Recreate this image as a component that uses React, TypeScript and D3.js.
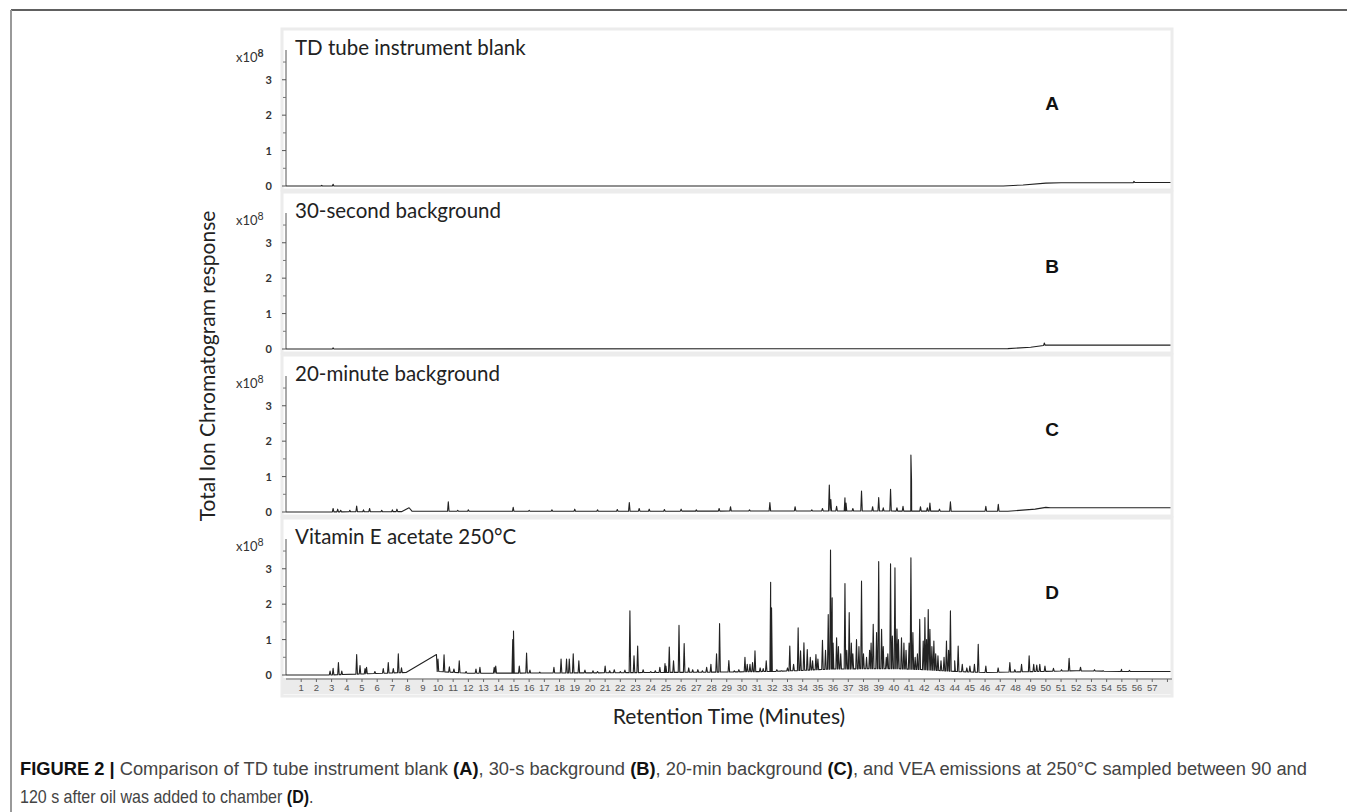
import React from 'react';
import * as d3 from 'd3';

// ---- data (minutes, x10^8 counts) ----
const panelTitles = ['TD tube instrument blank', '30-second background', '20-minute background', 'Vitamin E acetate 250°C'];
const panelLetters = ['A', 'B', 'C', 'D'];
const yTicks = [0, 1, 2, 3];
const yMinorTicks = [0.5, 1.5, 2.5, 3.5];
const xTickLabels = d3.range(1, 58);

const baselineA = [[0, 0], [47.2, 0], [48.5, 0.03], [50, 0.08], [51, 0.09], [58.2, 0.1]];
const peaksA = [[2.35, 0.02], [3.1, 0.05], [55.8, 0.13]];

const baselineB = [[0, 0], [47.5, 0.01], [49, 0.05], [50, 0.11], [58.2, 0.11]];
const peaksB = [[3.1, 0.03], [49.9, 0.17]];

const baselineC = [[0, 0], [7.6, 0.01], [8.1, 0.12], [8.3, 0.02], [20, 0.02], [35, 0.03], [47.5, 0.02], [49.3, 0.08], [50, 0.13], [50.3, 0.12], [58.2, 0.12]];
const peaksC = [
  [3.1, 0.1], [3.4, 0.08], [3.6, 0.05], [4.2, 0.05], [4.65, 0.17], [5.1, 0.06], [5.5, 0.1], [6.3, 0.05], [7.0, 0.06], [7.3, 0.08],
  [10.68, 0.29], [11.3, 0.05], [12.0, 0.06], [14.95, 0.13], [16.0, 0.05], [17.5, 0.06], [19.0, 0.08], [20.5, 0.06], [21.8, 0.07],
  [22.59, 0.27], [23.24, 0.1], [23.9, 0.08], [24.9, 0.07], [26.0, 0.08], [27.0, 0.06], [28.5, 0.1], [29.25, 0.15], [30.5, 0.06],
  [31.84, 0.27], [33.5, 0.15], [34.6, 0.06], [35.3, 0.1], [35.75, 0.76], [35.85, 0.35], [36.23, 0.16], [36.78, 0.4], [36.85, 0.25],
  [37.3, 0.1], [37.87, 0.59], [38.6, 0.15], [39.0, 0.41], [39.3, 0.12], [39.78, 0.64], [40.2, 0.12], [40.6, 0.16], [41.12, 1.61],
  [41.16, 0.9], [41.75, 0.15], [42.2, 0.12], [42.37, 0.25], [43.0, 0.08], [43.72, 0.29], [46.05, 0.16], [46.87, 0.22],
];

const baselineD = [[0, 0], [2.8, 0], [7.9, 0.07], [9.9, 0.58], [9.95, 0.1], [12, 0.05], [20, 0.06], [28, 0.08], [32, 0.1], [34, 0.13], [36, 0.17], [40, 0.18], [42, 0.15], [44, 0.1], [46, 0.07], [52, 0.12], [55, 0.1], [58.2, 0.1]];
const peaksD = [
  [2.9, 0.11], [3.1, 0.19], [3.45, 0.35], [3.67, 0.11], [4.65, 0.58], [4.87, 0.27], [5.2, 0.18], [5.3, 0.22], [5.85, 0.1], [6.4, 0.18],
  [6.73, 0.35], [7.06, 0.18], [7.39, 0.6], [7.6, 0.2], [10.0, 0.45], [10.4, 0.57], [10.75, 0.23], [11.05, 0.17], [11.4, 0.4], [11.85, 0.1],
  [12.5, 0.17], [12.76, 0.22], [13.7, 0.22], [13.8, 0.25], [14.92, 1.0], [14.97, 1.24], [15.35, 0.25], [15.83, 0.62], [16.05, 0.14],
  [16.7, 0.08], [17.63, 0.22], [18.1, 0.45], [18.46, 0.45], [18.64, 0.45], [18.9, 0.6], [19.27, 0.4], [19.67, 0.14], [20.2, 0.12],
  [20.5, 0.1], [21.0, 0.25], [21.3, 0.12], [21.6, 0.15], [22.0, 0.1], [22.3, 0.14], [22.63, 1.81], [22.9, 0.54], [23.14, 0.82],
  [23.5, 0.15], [24.0, 0.1], [24.3, 0.12], [24.6, 0.22], [24.94, 0.32], [25.0, 0.25], [25.22, 0.79], [25.5, 0.4], [25.86, 1.4],
  [26.2, 0.89], [26.5, 0.2], [26.76, 0.15], [27.1, 0.15], [27.4, 0.12], [27.68, 0.22], [27.96, 0.3], [28.33, 0.6], [28.53, 1.45],
  [29.14, 0.41], [29.5, 0.12], [29.8, 0.15], [30.2, 0.5], [30.35, 0.3], [30.53, 0.3], [30.7, 0.35], [30.86, 0.68], [31.2, 0.2],
  [31.4, 0.18], [31.6, 0.4], [31.89, 2.62], [31.95, 1.9], [32.3, 0.15], [32.6, 0.12], [33.0, 0.2], [33.15, 0.82], [33.4, 0.3],
  [33.7, 1.33], [33.86, 0.68], [34.08, 0.91], [34.3, 0.72], [34.5, 0.5], [34.65, 0.4], [34.87, 0.58], [35.0, 0.45], [35.3, 0.98],
  [35.5, 0.7], [35.68, 1.71], [35.83, 3.53], [35.94, 2.18], [36.0, 0.9], [36.23, 1.05], [36.35, 0.8], [36.5, 0.6], [36.78, 2.58],
  [36.9, 0.7], [37.06, 1.76], [37.2, 0.9], [37.3, 0.6], [37.54, 1.0], [37.7, 0.8], [37.87, 2.65], [38.0, 0.6], [38.2, 0.5],
  [38.4, 0.7], [38.5, 0.9], [38.64, 1.43], [38.86, 1.2], [39.0, 3.2], [39.19, 1.29], [39.3, 0.8], [39.5, 0.5], [39.6, 0.6],
  [39.78, 3.14], [39.9, 1.1], [40.07, 3.03], [40.2, 1.3], [40.3, 1.0], [40.5, 1.05], [40.66, 0.9], [40.8, 0.7], [41.0, 0.9],
  [41.12, 3.31], [41.25, 1.2], [41.4, 0.5], [41.55, 0.6], [41.7, 1.57], [41.93, 0.96], [42.04, 1.62], [42.15, 1.0], [42.26, 1.85],
  [42.37, 1.29], [42.5, 0.8], [42.63, 0.96], [42.75, 0.6], [42.9, 0.54], [43.1, 0.4], [43.3, 0.5], [43.46, 0.96], [43.6, 0.7],
  [43.72, 1.81], [44.0, 0.4], [44.23, 0.82], [44.5, 0.3], [44.8, 0.2], [45.0, 0.25], [45.3, 0.3], [45.55, 0.87], [46.05, 0.25],
  [46.86, 0.2], [47.63, 0.35], [47.96, 0.15], [48.4, 0.3], [48.9, 0.54], [49.2, 0.3], [49.4, 0.28], [49.6, 0.3], [49.94, 0.25],
  [50.5, 0.19], [51.03, 0.15], [51.53, 0.47], [52.28, 0.22], [53.2, 0.15], [53.77, 0.12], [54.98, 0.16], [55.5, 0.13],
];

const baselines = [baselineA, baselineB, baselineC, baselineD];
const peaks = [peaksA, peaksB, peaksC, peaksD];

// ---- layout ----
const W = 1347;
const H = 812;
const zeros = [186, 349, 512, 675];
const x = d3.scaleLinear().domain([0, 58.3]).range([286, 1172]);
const PEAK_HALF = 0.05;
const captionFont = 'Liberation Sans Narrow, Liberation Sans, Arial, sans-serif';

function trace(base: number[][], pk: number[][]) {
  const b = d3.scaleLinear().domain(base.map(d => d[0])).range(base.map(d => d[1]));
  const pts: number[][] = base.map(d => [d[0], d[1]]);
  pk.forEach(([t, v]) => {
    pts.push([t - PEAK_HALF, b(t - PEAK_HALF)]);
    pts.push([t, Math.max(v, b(t))]);
    pts.push([t + PEAK_HALF, b(t + PEAK_HALF)]);
  });
  return pts.sort((p, q) => p[0] - q[0]);
}

const Panel = ({ i }: { i: number }) => {
  const z = zeros[i];
  const y = d3.scaleLinear().domain([0, 3.84]).range([z, z - 136]);
  const line = d3.line<number[]>().x(d => x(d[0])).y(d => y(d[1]));
  const axisX = x(0);
  return (
    <g>
      <rect x={282} y={z - 157} width={890} height={i === 3 ? 178 : 161} fill="none" stroke="#ececec" strokeWidth={3} />
      <line x1={axisX} x2={axisX} y1={y(3.84)} y2={y(0)} stroke="#555" strokeWidth={1} />
      {yTicks.map(t => (
        <g key={t}>
          <line x1={axisX - 4} x2={axisX} y1={y(t)} y2={y(t)} stroke="#555" />
          <text x={272} y={y(t) + 4} textAnchor="end" fontFamily="Lato, sans-serif" fontWeight={700} fontSize={11} fill="#333">{t}</text>
        </g>
      ))}
      {yMinorTicks.map(t => (
        <line key={t} x1={axisX - 3} x2={axisX} y1={y(t)} y2={y(t)} stroke="#777" />
      ))}
      <text x={236} y={z - 124} fontFamily="Lato, sans-serif" fontSize={13} fill="#333">
        x10<tspan dy={-5} fontSize={10.5} fontWeight={i === 0 ? 700 : 400}>8</tspan>
      </text>
      <text x={295} y={z - 131} fontFamily="Lato, sans-serif" fontSize={20.5} fill="#222">{panelTitles[i]}</text>
      <text x={1052} y={z - 76} textAnchor="middle" fontFamily="Liberation Sans, Arial, sans-serif" fontWeight={700} fontSize={19} fill="#111">{panelLetters[i]}</text>
      <path d={line(trace(baselines[i], peaks[i])) || ''} fill="none" stroke="#222" strokeWidth={1.1} strokeLinejoin="round" />
    </g>
  );
};

export default function App() {
  const axisY = zeros[3] + 4;
  return (
    <svg width={W} height={H} style={{ position: 'absolute', left: 0, top: 0, background: '#fff' }}>
      <line x1={11} x2={W} y1={10} y2={10} stroke="#2b2b2b" strokeWidth={1.5} />
      <line x1={11} x2={11} y1={10} y2={H} stroke="#999" strokeWidth={2} />

      {zeros.map((_, i) => <Panel key={i} i={i} />)}

      {/* retention time axis under panel D */}
      <rect x={282} y={axisY - 1} width={890} height={16} fill="#ebebeb" />
      <line x1={x(0)} x2={x(58.3)} y1={axisY} y2={axisY} stroke="#666" />
      {d3.range(1, 59).map(t => (
        <line key={t} x1={x(t)} x2={x(t)} y1={axisY} y2={axisY + 3} stroke="#666" />
      ))}
      {xTickLabels.map(t => (
        <text key={t} x={x(t)} y={axisY + 12} textAnchor="middle" fontFamily="Liberation Sans, Arial, sans-serif" fontSize={9.5} fill="#555">{t}</text>
      ))}

      <text transform={`translate(215,366) rotate(-90)`} textAnchor="middle" fontFamily="Lato, sans-serif" fontSize={21} fill="#222">Total Ion Chromatogram response</text>
      <text x={729} y={724} textAnchor="middle" fontFamily="Lato, sans-serif" fontSize={21} fill="#222">Retention Time (Minutes)</text>

      <text x={20} y={775} fontFamily={captionFont} fontSize={18} fill="#444" textLength={1287} lengthAdjust="spacingAndGlyphs">
        <tspan fontWeight={700} fill="#111">FIGURE 2 | </tspan>Comparison of TD tube instrument blank <tspan fontWeight={700} fill="#111">(A)</tspan>, 30-s background <tspan fontWeight={700} fill="#111">(B)</tspan>, 20-min background <tspan fontWeight={700} fill="#111">(C)</tspan>, and VEA emissions at 250°C sampled between 90 and
      </text>
      <g transform="translate(20,803) scale(0.89,1)">
        <text x={0} y={0} fontFamily={captionFont} fontSize={18} fill="#444">
          120 s after oil was added to chamber <tspan fontWeight={700} fill="#111">(D)</tspan>.
        </text>
      </g>
    </svg>
  );
}
